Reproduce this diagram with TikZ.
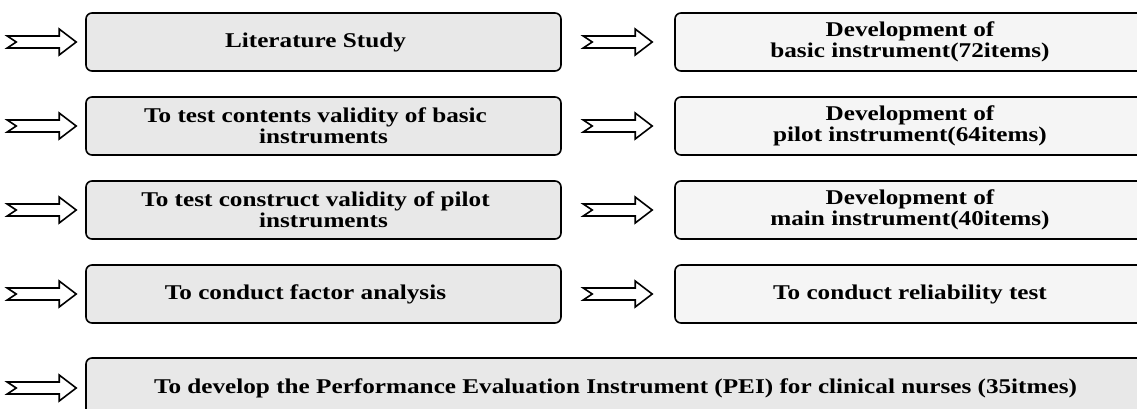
\documentclass[tikz,border=0pt]{standalone}
\usepackage{fontspec}
\setmainfont{Liberation Serif}[FakeStretch=1.2]

\tikzset{
  stagebox/.style={draw=black, line width=0.8pt, rounded corners=3pt, fill=black!9,
    font=\bfseries\fontsize{10.5}{10.5}\selectfont, align=center, inner sep=0pt},
  leftbox/.style={stagebox, minimum width=237.5pt, minimum height=29pt},
  rightbox/.style={stagebox, fill=black!4, minimum width=235pt, minimum height=29pt},
  pics/blockarrow/.style={code={
    \draw[line width=0.8pt, fill=white, line join=miter]
      (-69,-6) -- (-17,-6) -- (-17,-13) -- (0,0) -- (-17,13) -- (-17,6) -- (-69,6) -- (-60,0) -- cycle;}}
}

\begin{document}
\begin{tikzpicture}[x=0.5pt, y=-0.5pt]
  \useasboundingbox (0,0) rectangle (1137,408);
  \clip (0,0) rectangle (1137,408);
%% left column
  \node[leftbox] (lit) at (323.5,42) {Literature Study\hspace*{8pt}};
  \node[leftbox] (content) at (323.5,126) {To test contents validity of basic\hspace*{8pt}\\instruments};
  \node[leftbox] (construct) at (323.5,210) {To test construct validity of pilot\hspace*{8pt}\\instruments};
  \node[leftbox] (factor) at (323.5,294) {To conduct factor analysis\hspace*{18pt}};
%% right column
  \node[rightbox] (basic) at (910,42) {Development of\\basic instrument(72items)};
  \node[rightbox] (pilot) at (910,126) {Development of\\pilot instrument(64items)};
  \node[rightbox] (main) at (910,210) {Development of\\main instrument(40items)};
  \node[rightbox] (reliab) at (910,294) {To conduct reliability test};
%% last step
  \node[stagebox, minimum width=529.5pt, minimum height=30pt] (pei) at (615.5,388)
    {To develop the Performance Evaluation Instrument (PEI) for clinical nurses (35itmes)};
%% arrows in front of the boxes
  \foreach \n in {lit,content,construct,factor,pei}
    \pic at ([xshift=-4.5pt]\n.west) {blockarrow};
  \foreach \n in {basic,pilot,main,reliab}
    \pic at ([xshift=-11pt]\n.west) {blockarrow};
\end{tikzpicture}
\end{document}
